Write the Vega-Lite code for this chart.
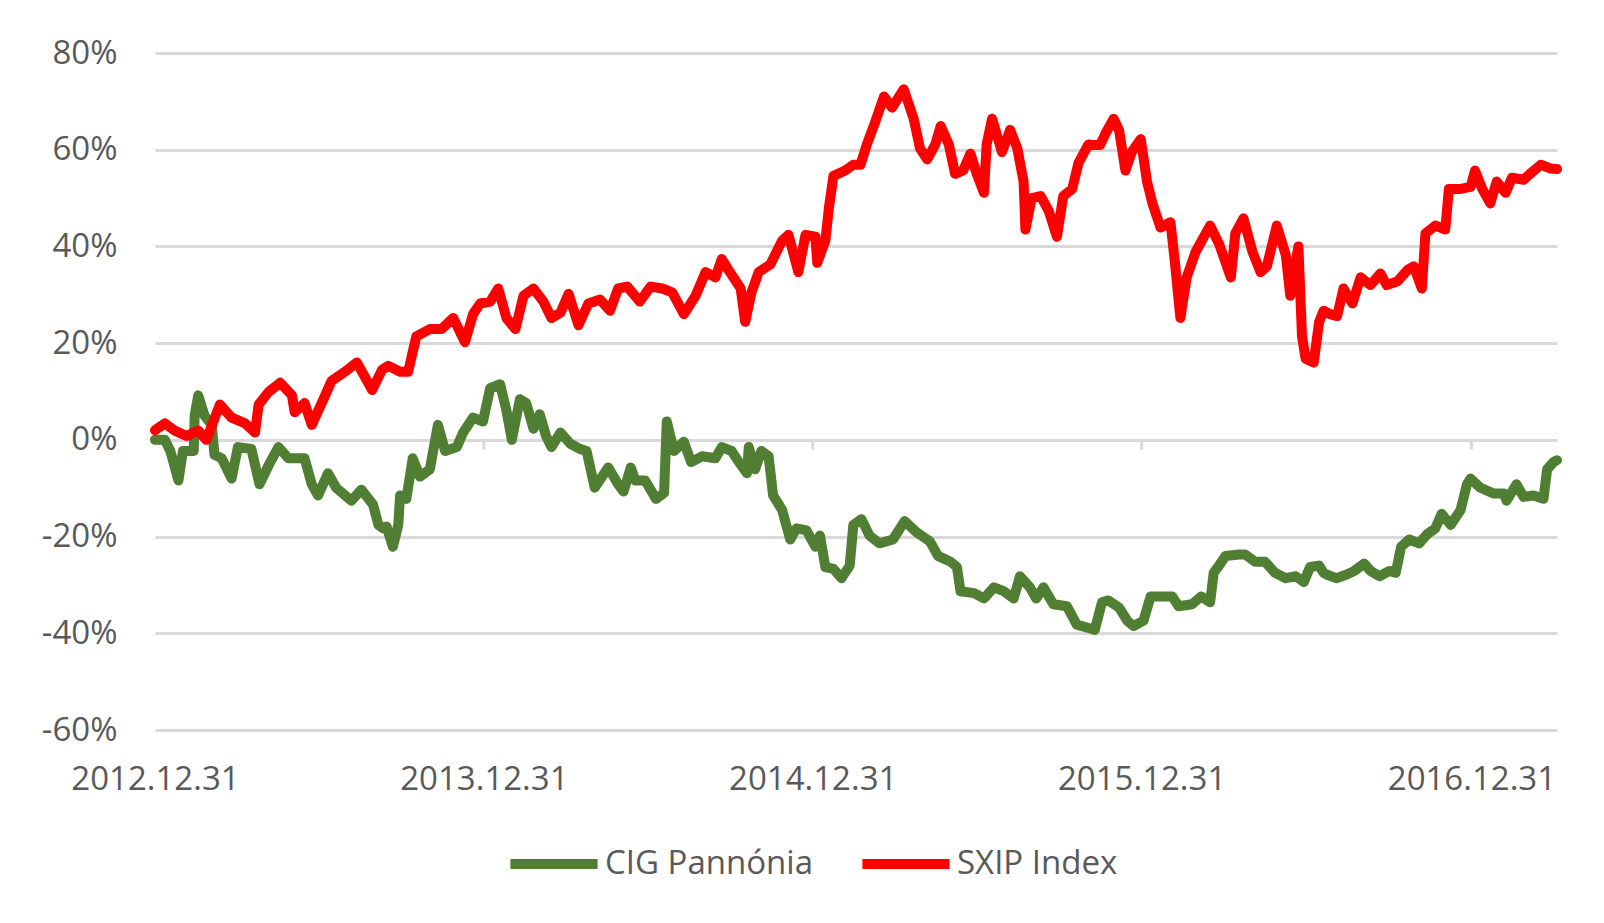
{
  "$schema": "https://vega.github.io/schema/vega-lite/v6.json",
  "width": 1402,
  "height": 677,
  "autosize": {"type": "none"},
  "padding": {"left": 155, "top": 53, "right": 47, "bottom": 193},
  "background": "white",
  "config": {
    "font": "Open Sans",
    "view": {"stroke": null},
    "axis": {"labelFont": "Open Sans", "labelFontSize": 33, "labelColor": "#595959"},
    "legend": {"labelFont": "Open Sans", "labelFontSize": 33, "labelColor": "#595959"}
  },
  "datasets": {
    "cig": [
      {"date":"2012-12-31","value":0},{"date":"2013-01-11","value":0},{"date":"2013-01-17","value":-2.3},{"date":"2013-01-26","value":-8.4},{"date":"2013-01-31","value":-2.3},{"date":"2013-02-12","value":-2.3},{"date":"2013-02-13","value":5},{"date":"2013-02-17","value":9.2},{"date":"2013-02-24","value":5},{"date":"2013-03-04","value":3.1},{"date":"2013-03-07","value":-3.1},{"date":"2013-03-15","value":-3.8},{"date":"2013-03-26","value":-8},{"date":"2013-04-02","value":-1.5},{"date":"2013-04-17","value":-1.9},{"date":"2013-04-26","value":-9.2},{"date":"2013-05-06","value":-5.3},{"date":"2013-05-17","value":-1.5},{"date":"2013-05-28","value":-3.8},{"date":"2013-06-15","value":-3.8},{"date":"2013-06-23","value":-9.2},{"date":"2013-06-30","value":-11.5},{"date":"2013-07-11","value":-6.9},{"date":"2013-07-20","value":-9.9},{"date":"2013-08-06","value":-12.6},{"date":"2013-08-17","value":-10.3},{"date":"2013-08-30","value":-13.4},{"date":"2013-09-05","value":-17.6},{"date":"2013-09-10","value":-18.3},{"date":"2013-09-14","value":-17.9},{"date":"2013-09-21","value":-22.1},{"date":"2013-09-27","value":-17.6},{"date":"2013-09-29","value":-11.5},{"date":"2013-10-06","value":-12.2},{"date":"2013-10-13","value":-3.8},{"date":"2013-10-21","value":-7.6},{"date":"2013-11-01","value":-6.1},{"date":"2013-11-10","value":3.1},{"date":"2013-11-18","value":-2.3},{"date":"2013-12-01","value":-1.5},{"date":"2013-12-08","value":1.5},{"date":"2013-12-19","value":4.6},{"date":"2013-12-30","value":3.8},{"date":"2014-01-07","value":10.7},{"date":"2014-01-18","value":11.5},{"date":"2014-01-25","value":6.1},{"date":"2014-01-31","value":0},{"date":"2014-02-09","value":8.4},{"date":"2014-02-16","value":7.6},{"date":"2014-02-24","value":2.3},{"date":"2014-03-03","value":5.3},{"date":"2014-03-10","value":0.8},{"date":"2014-03-16","value":-1.5},{"date":"2014-03-26","value":1.5},{"date":"2014-04-06","value":-0.8},{"date":"2014-04-17","value":-1.9},{"date":"2014-04-24","value":-2.3},{"date":"2014-05-03","value":-9.9},{"date":"2014-05-18","value":-5.7},{"date":"2014-05-29","value":-9.2},{"date":"2014-06-04","value":-10.7},{"date":"2014-06-12","value":-5.7},{"date":"2014-06-17","value":-8.4},{"date":"2014-06-28","value":-8.4},{"date":"2014-07-10","value":-12.2},{"date":"2014-07-19","value":-11},{"date":"2014-07-22","value":3.8},{"date":"2014-07-30","value":-2.3},{"date":"2014-08-10","value":-0.4},{"date":"2014-08-18","value":-4.6},{"date":"2014-08-30","value":-3.4},{"date":"2014-09-14","value":-3.8},{"date":"2014-09-21","value":-1.5},{"date":"2014-10-02","value":-2.3},{"date":"2014-10-10","value":-4.6},{"date":"2014-10-19","value":-6.9},{"date":"2014-10-21","value":-1.5},{"date":"2014-10-28","value":-6.1},{"date":"2014-11-04","value":-2.3},{"date":"2014-11-12","value":-3.4},{"date":"2014-11-17","value":-11.5},{"date":"2014-11-27","value":-14.5},{"date":"2014-12-06","value":-20.6},{"date":"2014-12-13","value":-18.3},{"date":"2014-12-24","value":-18.7},{"date":"2015-01-03","value":-22.1},{"date":"2015-01-08","value":-19.8},{"date":"2015-01-14","value":-26.3},{"date":"2015-01-23","value":-26.7},{"date":"2015-02-01","value":-28.6},{"date":"2015-02-10","value":-26},{"date":"2015-02-14","value":-17.6},{"date":"2015-02-23","value":-16.4},{"date":"2015-03-04","value":-19.8},{"date":"2015-03-15","value":-21.4},{"date":"2015-03-30","value":-20.6},{"date":"2015-04-12","value":-16.8},{"date":"2015-04-25","value":-19.1},{"date":"2015-05-10","value":-21},{"date":"2015-05-19","value":-24},{"date":"2015-06-02","value":-25.2},{"date":"2015-06-09","value":-26.3},{"date":"2015-06-13","value":-31.3},{"date":"2015-06-28","value":-31.7},{"date":"2015-07-09","value":-32.8},{"date":"2015-07-20","value":-30.5},{"date":"2015-07-31","value":-31.3},{"date":"2015-08-11","value":-32.8},{"date":"2015-08-18","value":-28.2},{"date":"2015-08-29","value":-30.5},{"date":"2015-09-05","value":-32.8},{"date":"2015-09-13","value":-30.5},{"date":"2015-09-24","value":-34},{"date":"2015-10-09","value":-34.4},{"date":"2015-10-20","value":-38.2},{"date":"2015-11-02","value":-38.9},{"date":"2015-11-09","value":-39.3},{"date":"2015-11-17","value":-33.6},{"date":"2015-11-24","value":-33.2},{"date":"2015-12-06","value":-34.7},{"date":"2015-12-15","value":-37.4},{"date":"2015-12-22","value":-38.5},{"date":"2016-01-02","value":-37.4},{"date":"2016-01-10","value":-32.4},{"date":"2016-01-21","value":-32.4},{"date":"2016-02-03","value":-32.4},{"date":"2016-02-10","value":-34.4},{"date":"2016-02-25","value":-34},{"date":"2016-03-06","value":-32.4},{"date":"2016-03-16","value":-33.6},{"date":"2016-03-20","value":-27.5},{"date":"2016-03-26","value":-26},{"date":"2016-04-02","value":-24},{"date":"2016-04-17","value":-23.7},{"date":"2016-04-24","value":-23.7},{"date":"2016-05-05","value":-25.2},{"date":"2016-05-16","value":-25.2},{"date":"2016-05-27","value":-27.5},{"date":"2016-06-08","value":-28.6},{"date":"2016-06-19","value":-28.2},{"date":"2016-06-28","value":-29.4},{"date":"2016-07-05","value":-26.3},{"date":"2016-07-15","value":-26},{"date":"2016-07-20","value":-27.5},{"date":"2016-07-24","value":-27.9},{"date":"2016-08-03","value":-28.6},{"date":"2016-08-14","value":-27.9},{"date":"2016-08-23","value":-27.1},{"date":"2016-09-03","value":-25.6},{"date":"2016-09-10","value":-27.1},{"date":"2016-09-20","value":-28.2},{"date":"2016-10-01","value":-27.1},{"date":"2016-10-08","value":-27.5},{"date":"2016-10-14","value":-22.1},{"date":"2016-10-23","value":-20.6},{"date":"2016-11-03","value":-21.4},{"date":"2016-11-12","value":-19.5},{"date":"2016-11-21","value":-18.3},{"date":"2016-11-28","value":-15.3},{"date":"2016-12-08","value":-17.6},{"date":"2016-12-19","value":-14.5},{"date":"2016-12-26","value":-9.2},{"date":"2016-12-30","value":-8},{"date":"2017-01-10","value":-9.9},{"date":"2017-01-25","value":-11.1},{"date":"2017-02-05","value":-11.1},{"date":"2017-02-08","value":-12.6},{"date":"2017-02-19","value":-9.2},{"date":"2017-02-27","value":-11.8},{"date":"2017-03-10","value":-11.5},{"date":"2017-03-21","value":-12.2},{"date":"2017-03-25","value":-6.1},{"date":"2017-04-01","value":-4.6},{"date":"2017-04-05","value":-4.2}
    ],
    "sxip": [
      {"date":"2012-12-31","value":2},{"date":"2013-01-11","value":3.4},{"date":"2013-01-22","value":1.9},{"date":"2013-02-04","value":0.8},{"date":"2013-02-17","value":1.9},{"date":"2013-02-26","value":0},{"date":"2013-03-13","value":7.3},{"date":"2013-03-26","value":4.6},{"date":"2013-04-10","value":3.4},{"date":"2013-04-21","value":1.5},{"date":"2013-04-25","value":7.3},{"date":"2013-05-06","value":9.9},{"date":"2013-05-19","value":11.8},{"date":"2013-06-01","value":9.2},{"date":"2013-06-04","value":5.7},{"date":"2013-06-15","value":7.6},{"date":"2013-06-23","value":3.1},{"date":"2013-07-04","value":7.6},{"date":"2013-07-15","value":12.2},{"date":"2013-07-30","value":14.1},{"date":"2013-08-12","value":16},{"date":"2013-08-21","value":13},{"date":"2013-08-29","value":10.3},{"date":"2013-09-09","value":14.5},{"date":"2013-09-16","value":15.3},{"date":"2013-09-29","value":14.1},{"date":"2013-10-08","value":14.1},{"date":"2013-10-17","value":21.4},{"date":"2013-11-01","value":22.9},{"date":"2013-11-14","value":22.9},{"date":"2013-11-27","value":25.2},{"date":"2013-12-10","value":20.2},{"date":"2013-12-19","value":26},{"date":"2013-12-27","value":28.2},{"date":"2014-01-07","value":28.6},{"date":"2014-01-16","value":31.3},{"date":"2014-01-25","value":25.2},{"date":"2014-02-04","value":22.9},{"date":"2014-02-13","value":29.8},{"date":"2014-02-24","value":31.3},{"date":"2014-03-07","value":28.6},{"date":"2014-03-16","value":25.2},{"date":"2014-03-26","value":26.3},{"date":"2014-04-04","value":30.2},{"date":"2014-04-15","value":23.7},{"date":"2014-04-26","value":28.2},{"date":"2014-05-09","value":29},{"date":"2014-05-20","value":26.7},{"date":"2014-05-29","value":31.3},{"date":"2014-06-08","value":31.7},{"date":"2014-06-22","value":28.6},{"date":"2014-07-04","value":31.7},{"date":"2014-07-17","value":31.3},{"date":"2014-07-28","value":30.5},{"date":"2014-08-10","value":26},{"date":"2014-08-23","value":29.8},{"date":"2014-09-03","value":34.7},{"date":"2014-09-14","value":33.6},{"date":"2014-09-21","value":37.4},{"date":"2014-09-30","value":34.7},{"date":"2014-10-12","value":31.3},{"date":"2014-10-17","value":24.4},{"date":"2014-10-24","value":30.5},{"date":"2014-11-01","value":34.7},{"date":"2014-11-14","value":36.3},{"date":"2014-11-27","value":41.2},{"date":"2014-12-04","value":42.4},{"date":"2014-12-15","value":34.7},{"date":"2014-12-23","value":42.4},{"date":"2015-01-03","value":42},{"date":"2015-01-05","value":36.6},{"date":"2015-01-14","value":41.2},{"date":"2015-01-18","value":48.1},{"date":"2015-01-23","value":54.6},{"date":"2015-02-05","value":55.7},{"date":"2015-02-14","value":56.9},{"date":"2015-02-22","value":56.9},{"date":"2015-03-01","value":61.1},{"date":"2015-03-10","value":65.6},{"date":"2015-03-20","value":71},{"date":"2015-03-29","value":68.7},{"date":"2015-04-11","value":72.5},{"date":"2015-04-22","value":66.4},{"date":"2015-04-29","value":60.3},{"date":"2015-05-07","value":58},{"date":"2015-05-16","value":61.1},{"date":"2015-05-22","value":64.9},{"date":"2015-05-31","value":61.1},{"date":"2015-06-07","value":55},{"date":"2015-06-16","value":55.7},{"date":"2015-06-24","value":59.2},{"date":"2015-07-01","value":55},{"date":"2015-07-09","value":51.1},{"date":"2015-07-12","value":61.1},{"date":"2015-07-18","value":66.4},{"date":"2015-07-29","value":59.5},{"date":"2015-08-07","value":64.1},{"date":"2015-08-15","value":60.3},{"date":"2015-08-22","value":53.4},{"date":"2015-08-24","value":43.5},{"date":"2015-08-31","value":50},{"date":"2015-09-10","value":50.4},{"date":"2015-09-19","value":47.3},{"date":"2015-09-28","value":42},{"date":"2015-10-05","value":50.4},{"date":"2015-10-15","value":51.9},{"date":"2015-10-22","value":57.3},{"date":"2015-11-02","value":61.1},{"date":"2015-11-06","value":61},{"date":"2015-11-15","value":61},{"date":"2015-11-21","value":63.4},{"date":"2015-11-30","value":66.4},{"date":"2015-12-06","value":64},{"date":"2015-12-13","value":55.7},{"date":"2015-12-20","value":59.5},{"date":"2015-12-30","value":62.2},{"date":"2016-01-06","value":53.4},{"date":"2016-01-12","value":48.9},{"date":"2016-01-21","value":43.9},{"date":"2016-02-01","value":45},{"date":"2016-02-06","value":36.6},{"date":"2016-02-12","value":25.2},{"date":"2016-02-19","value":33.6},{"date":"2016-02-29","value":38.9},{"date":"2016-03-09","value":42},{"date":"2016-03-16","value":44.3},{"date":"2016-03-26","value":40.5},{"date":"2016-04-08","value":33.6},{"date":"2016-04-13","value":42.7},{"date":"2016-04-22","value":45.8},{"date":"2016-05-02","value":38.9},{"date":"2016-05-11","value":34.7},{"date":"2016-05-18","value":35.9},{"date":"2016-05-29","value":44.3},{"date":"2016-06-08","value":38.2},{"date":"2016-06-13","value":29.8},{"date":"2016-06-22","value":40},{"date":"2016-06-26","value":21.4},{"date":"2016-06-30","value":16.8},{"date":"2016-07-09","value":16},{"date":"2016-07-15","value":24.4},{"date":"2016-07-20","value":26.7},{"date":"2016-07-27","value":26},{"date":"2016-08-04","value":25.6},{"date":"2016-08-11","value":31.3},{"date":"2016-08-21","value":28.2},{"date":"2016-08-30","value":33.6},{"date":"2016-09-10","value":32},{"date":"2016-09-21","value":34.4},{"date":"2016-09-28","value":32},{"date":"2016-10-10","value":32.8},{"date":"2016-10-21","value":35.1},{"date":"2016-10-28","value":35.9},{"date":"2016-11-06","value":31.3},{"date":"2016-11-10","value":42.7},{"date":"2016-11-21","value":44.3},{"date":"2016-12-02","value":43.5},{"date":"2016-12-06","value":51.9},{"date":"2016-12-19","value":51.9},{"date":"2016-12-30","value":52.3},{"date":"2017-01-04","value":55.7},{"date":"2017-01-12","value":51.9},{"date":"2017-01-21","value":48.9},{"date":"2017-01-28","value":53.4},{"date":"2017-02-07","value":51.1},{"date":"2017-02-14","value":54.2},{"date":"2017-02-27","value":53.8},{"date":"2017-03-06","value":55},{"date":"2017-03-18","value":56.9},{"date":"2017-03-29","value":56.1},{"date":"2017-04-05","value":56}
    ],
    "yearEnds": [
      {"date":"2013-12-31"},{"date":"2014-12-31"},{"date":"2015-12-31"},{"date":"2016-12-31"}
    ]
  },
  "encoding": {
    "x": {
      "field": "date",
      "type": "temporal",
      "title": null,
      "scale": {
        "type": "utc",
        "domain": [
          {"year": 2012, "month": 12, "date": 31, "utc": true},
          {"year": 2017, "month": 4, "date": 5, "utc": true}
        ]
      },
      "axis": {
        "values": [
          {"year": 2012, "month": 12, "date": 31, "utc": true},
          {"year": 2013, "month": 12, "date": 31, "utc": true},
          {"year": 2014, "month": 12, "date": 31, "utc": true},
          {"year": 2015, "month": 12, "date": 31, "utc": true},
          {"year": 2016, "month": 12, "date": 31, "utc": true}
        ],
        "format": "%Y.%m.%d",
        "grid": false,
        "domain": false,
        "ticks": false,
        "labelFlush": false,
        "labelOverlap": false,
        "labelPadding": 33
      }
    }
  },
  "layer": [
    {
      "data": {"name": "yearEnds"},
      "mark": {"type": "rule", "color": "#d9d9d9", "strokeWidth": 3},
      "encoding": {
        "y": {"datum": 0, "type": "quantitative"},
        "y2": {"datum": -2}
      }
    },
    {
      "data": {"name": "cig"},
      "mark": {"type": "line", "strokeWidth": 10, "strokeJoin": "round", "strokeCap": "round"},
      "encoding": {
        "y": {
          "field": "value",
          "type": "quantitative",
          "title": null,
          "scale": {"domain": [-60, 80], "nice": false, "zero": false},
          "axis": {
            "values": [-60, -40, -20, 0, 20, 40, 60, 80],
            "labelExpr": "datum.value + '%'",
            "domain": false,
            "ticks": false,
            "grid": true,
            "gridColor": "#d9d9d9",
            "gridWidth": 3,
            "labelPadding": 38
          }
        },
        "color": {
          "datum": "CIG Pannónia",
          "scale": {"domain": ["CIG Pannónia", "SXIP Index"], "range": ["#507e32", "#ff0000"]},
          "legend": {
            "title": null,
            "orient": "none",
            "legendX": 350,
            "legendY": 762,
            "direction": "horizontal",
            "symbolType": "stroke",
            "symbolSize": 7600,
            "symbolStrokeWidth": 10,
            "labelOffset": 2,
            "labelLimit": 0,
            "columnPadding": 29
          }
        }
      }
    },
    {
      "data": {"name": "sxip"},
      "mark": {"type": "line", "strokeWidth": 10, "strokeJoin": "round", "strokeCap": "round"},
      "encoding": {
        "y": {"field": "value", "type": "quantitative"},
        "color": {"datum": "SXIP Index"}
      }
    }
  ]
}
